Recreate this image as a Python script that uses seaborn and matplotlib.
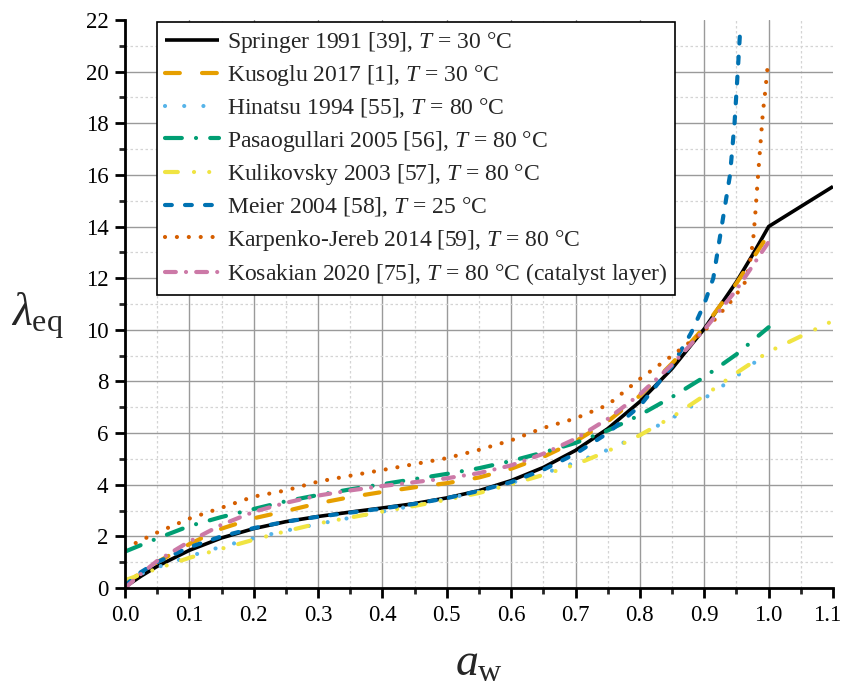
import numpy as np
import pandas as pd
import matplotlib
matplotlib.use("Agg")
import matplotlib.pyplot as plt
from matplotlib.ticker import MultipleLocator
from matplotlib.transforms import ScaledTranslation
import seaborn as sns

# Water uptake isotherms: lambda_eq versus water activity a_w
a_springer = [0, 0.025, 0.05, 0.1, 0.15, 0.2, 0.25, 0.3, 0.35, 0.4, 0.45, 0.5, 0.55,
              0.6, 0.65, 0.7, 0.75, 0.8, 0.85, 0.9, 0.95, 0.975, 1.0, 1.1]
l_springer = [0.04, 0.46, 0.84, 1.46, 1.94, 2.30, 2.57, 2.77, 2.94, 3.10, 3.27, 3.49, 3.77,
              4.16, 4.67, 5.33, 6.17, 7.22, 8.50, 10.04, 11.86, 12.9, 14.0, 15.55]

a_kusoglu = [0, 0.025, 0.05, 0.1, 0.15, 0.2, 0.25, 0.3, 0.35, 0.4, 0.45, 0.5, 0.55,
             0.6, 0.65, 0.7, 0.75, 0.8, 0.85, 0.9, 0.95, 1.0]
l_kusoglu = [0.15, 0.6, 1.0, 1.7, 2.3, 2.7, 2.98, 3.28, 3.52, 3.72, 3.9, 4.06, 4.28,
             4.62, 5.08, 5.68, 6.45, 7.45, 8.7, 10.1, 11.8, 13.7]

a_hinatsu = [0, 0.05, 0.1, 0.15, 0.2, 0.25, 0.3, 0.35, 0.4, 0.45, 0.5, 0.55, 0.6,
             0.65, 0.7, 0.75, 0.8, 0.85, 0.9, 0.95, 1.0]
l_hinatsu = [0.3, 0.8, 1.23, 1.6, 1.93, 2.22, 2.48, 2.72, 2.96, 3.2, 3.46, 3.74, 4.07,
             4.43, 4.86, 5.35, 5.92, 6.58, 7.34, 8.2, 9.15]

a_pasaogullari = [0, 0.05, 0.1, 0.15, 0.2, 0.25, 0.3, 0.35, 0.4, 0.45, 0.5, 0.55, 0.6,
                  0.65, 0.7, 0.75, 0.8, 0.85, 0.9, 0.95, 1.0]
l_pasaogullari = [1.41, 1.92, 2.4, 2.75, 3.06, 3.36, 3.6, 3.82, 4.02, 4.22, 4.42, 4.64, 4.92,
                  5.25, 5.62, 6.1, 6.7, 7.4, 8.17, 9.05, 10.1]

a_kulikovsky = [0, 0.05, 0.1, 0.15, 0.2, 0.25, 0.3, 0.35, 0.4, 0.45, 0.5, 0.55, 0.6,
                0.65, 0.7, 0.75, 0.8, 0.85, 0.9, 0.95, 1.0, 1.05, 1.1]
l_kulikovsky = [0.3, 0.75, 1.17, 1.52, 1.87, 2.2, 2.5, 2.73, 2.96, 3.18, 3.42, 3.68, 4.02,
                4.38, 4.78, 5.3, 5.92, 6.62, 7.45, 8.33, 9.15, 9.75, 10.35]

a_meier = [0, 0.025, 0.05, 0.1, 0.15, 0.2, 0.25, 0.3, 0.35, 0.4, 0.45, 0.5, 0.55, 0.6,
           0.65, 0.7, 0.75, 0.8, 0.85, 0.88, 0.9, 0.914, 0.927, 0.94, 0.947, 0.952, 0.956]
l_meier = [0.1, 0.62, 1.0, 1.58, 2.0, 2.32, 2.57, 2.76, 2.92, 3.08, 3.26, 3.48, 3.76, 4.1,
           4.58, 5.2, 6.0, 7.05, 8.6, 9.9, 11.0, 12.0, 14.0, 16.0, 18.0, 20.0, 21.7]

a_karpenko = [0, 0.05, 0.1, 0.15, 0.2, 0.25, 0.3, 0.35, 0.4, 0.45, 0.5, 0.55, 0.6, 0.65,
              0.7, 0.75, 0.8, 0.85, 0.9, 0.92, 0.945, 0.963, 0.971, 0.976, 0.979, 0.983,
              0.987, 0.991, 0.995, 0.999]
l_karpenko = [1.54, 2.15, 2.69, 3.11, 3.54, 3.78, 4.12, 4.35, 4.57, 4.8, 5.03, 5.35, 5.72,
              6.2, 6.57, 7.09, 8.1, 9.0, 9.95, 10.5, 11.2, 11.83, 12.6, 13.5, 14.4, 15.8,
              17.1, 18.4, 19.3, 20.35]

a_kosakian = [0, 0.025, 0.05, 0.1, 0.15, 0.2, 0.25, 0.3, 0.35, 0.4, 0.45, 0.5, 0.55,
              0.6, 0.65, 0.7, 0.75, 0.8, 0.85, 0.9, 0.95, 1.0]
l_kosakian = [0.0, 0.55, 1.05, 1.8, 2.45, 2.95, 3.3, 3.58, 3.78, 3.95, 4.1, 4.25, 4.45,
              4.75, 5.2, 5.78, 6.55, 7.5, 8.65, 10.0, 11.55, 13.4]

labels = [
    "Springer 1991 [39], $T$ = 30 °C",
    "Kusoglu 2017 [1], $T$ = 30 °C",
    "Hinatsu 1994 [55], $T$ = 80 °C",
    "Pasaogullari 2005 [56], $T$ = 80 °C",
    "Kulikovsky 2003 [57], $T$ = 80 °C",
    "Meier 2004 [58], $T$ = 25 °C",
    "Karpenko-Jereb 2014 [59], $T$ = 80 °C",
    "Kosakian 2020 [75], $T$ = 80 °C (catalyst layer)",
]
colors = ["#000000", "#E69F00", "#56B4E9", "#009E73",
          "#F0E442", "#0072B2", "#D55E00", "#CC79A7"]

series = [
    (a_springer, l_springer),
    (a_kusoglu, l_kusoglu),
    (a_hinatsu, l_hinatsu),
    (a_pasaogullari, l_pasaogullari),
    (a_kulikovsky, l_kulikovsky),
    (a_meier, l_meier),
    (a_karpenko, l_karpenko),
    (a_kosakian, l_kosakian),
]

DPI = 100
LW = 3.0          # coloured curves, points
LW_BLACK = 2.6
px_per_lw = LW * DPI / 72.0


def round_dashes(*visual_px):
    """On/off sequence (in line-width units) giving the visible lengths in pixels
    once round caps are added to every dash."""
    seq = []
    for i, v in enumerate(visual_px):
        u = v / px_per_lw
        seq.append(max(u - 1.0, 0.0) if i % 2 == 0 else u + 1.0)
    return seq


styles = [
    None,                                          # solid
    round_dashes(19, 18),                          # long dash
    round_dashes(4.2, 15),                         # sparse dots
    round_dashes(21, 10, 4.2, 10),                 # dash-dot
    round_dashes(17, 12, 4.2, 11, 4.2, 11),        # dash-dot-dot
    round_dashes(11, 9),                           # short dash
    round_dashes(4.2, 7.7),                        # dense dots
    round_dashes(15, 6, 4.2, 6),                   # dash-dot
]

sns.set_style("ticks")
plt.rcParams["font.family"] = ["Liberation Serif", "DejaVu Serif"]
plt.rcParams["mathtext.fontset"] = "custom"
plt.rcParams["mathtext.rm"] = "Liberation Serif"
plt.rcParams["mathtext.it"] = "Liberation Serif:italic"
plt.rcParams["mathtext.bf"] = "Liberation Serif:bold"

fig = plt.figure(figsize=(845 / DPI, 691 / DPI), dpi=DPI)
ax = fig.add_axes([125 / 845, 1 - 588 / 691, (833 - 125) / 845, (588 - 20) / 691])

for (a, lam), lab, col, dash in zip(series, labels, colors, styles):
    df = pd.DataFrame({"a_w": a, "lambda": lam})
    sns.lineplot(data=df, x="a_w", y="lambda", ax=ax, color=col, label=lab,
                 estimator=None)
    line = ax.lines[-1]
    if dash is None:
        line.set_linewidth(LW_BLACK)
        line.set_solid_capstyle("butt")
    else:
        line.set_linewidth(LW)
        line.set_dashes(dash)
        line.set_dash_capstyle("round")

ax.set_xlim(0, 1.1)
ax.set_ylim(0, 22)
ax.xaxis.set_minor_locator(MultipleLocator(0.05))
ax.yaxis.set_minor_locator(MultipleLocator(1))
xt = np.round(np.arange(0, 1.101, 0.1), 1)
ax.set_xticks(xt)
ax.set_xticklabels([f"{v:.1f}" for v in xt])
ax.set_yticks(np.arange(0, 23, 2))
ax.set_yticklabels([str(v) for v in range(0, 23, 2)])

ax.grid(which="major", color="#9a9a9a", lw=1.0, ls="-")
ax.grid(which="minor", color="#d4d4d4", lw=0.9, ls=(0, (2, 2)))
ax.set_axisbelow(True)
ax.get_xgridlines()[-1].set_visible(False)
ax.get_ygridlines()[-1].set_visible(False)

for side in ("top", "right"):
    ax.spines[side].set_visible(False)
for side in ("left", "bottom"):
    ax.spines[side].set_linewidth(2.0)
    ax.spines[side].set_color("black")
    ax.spines[side].set_zorder(5)

ax.tick_params(which="major", direction="out", length=7, width=2.0,
               labelsize=16.5, pad=5, colors="black")
ax.tick_params(which="minor", direction="out", length=4, width=2.0)

# keep the last x tick label inside the canvas
last = ax.get_xticklabels()[-1]
last.set_transform(last.get_transform() + ScaledTranslation(-4 / 72, 0, fig.dpi_scale_trans))

ax.set_xlabel(r"$a_{\mathrm{w}}$", fontsize=33, va="center")
ax.set_ylabel(r"$\lambda_{\mathrm{eq}}$", fontsize=33, rotation=0, ha="center", va="center")
ax.xaxis.set_label_coords(0.5, -0.135)
ax.yaxis.set_label_coords(-0.124, 0.48)

leg = ax.legend(loc="upper left", bbox_to_anchor=(0.045, 0.997), borderaxespad=0,
                fontsize=17, frameon=True, fancybox=False, edgecolor="black",
                framealpha=1, handlelength=2.3, handletextpad=0.3, borderpad=0.35,
                labelspacing=0.35)
leg.get_frame().set_linewidth(1.2)
leg.set_zorder(10)

fig.savefig("out.png", dpi=DPI)
